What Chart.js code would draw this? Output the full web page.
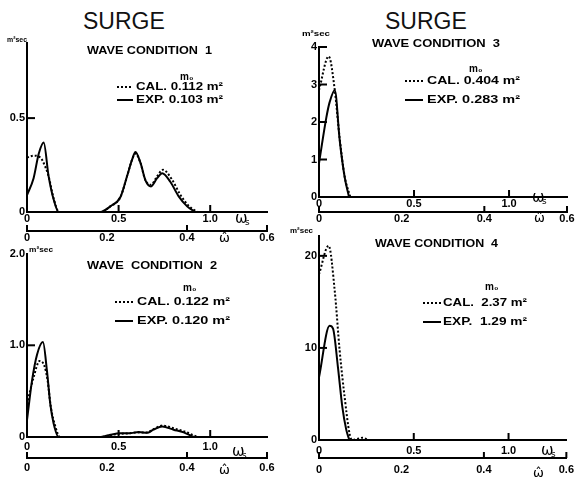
<!DOCTYPE html>
<html>
<head>
<meta charset="utf-8">
<script src="https://cdn.jsdelivr.net/npm/chart.js@4.4.1/dist/chart.umd.min.js"></script>
<style>
  body { margin: 0; background: #fff; width: 579px; height: 479px; position: relative; overflow: hidden;
         font-family: "Liberation Sans", Arial, sans-serif; }
  .head { position: absolute; top: 10px; font-size: 23px; line-height: 23px; color: #111; }
  .panel { position: absolute; }
  .panel canvas { display: block; }
</style>
</head>
<body>
<div class="head" style="left:83px">SURGE</div>
<div class="head" style="left:385px">SURGE</div>
<div class="panel"><canvas id="c1"></canvas></div>
<div class="panel"><canvas id="c2"></canvas></div>
<div class="panel"><canvas id="c3"></canvas></div>
<div class="panel"><canvas id="c4"></canvas></div>
<script>
// axis ticks
const wsTicks = [0, 0.5, 1.0];
const wsLabels = ["0", "0.5", "1.0"];
const whTicks = [0, 0.2, 0.4, 0.6];
const whLabels = ["0", "0.2", "0.4", "0.6"];

// wave condition 1
const wc1YTicks = [0, 0.5];
const wc1YLabels = ["0", "0.5"];
const wc1CalX = [0, 0.036, 0.073, 0.1, 0.118, 0.146, 0.175, 0.40, 0.455, 0.51, 0.546, 0.574, 0.592, 0.62, 0.646, 0.677, 0.71, 0.742, 0.79, 0.835, 0.88, 0.93];
const wc1CalY = [0.29, 0.30, 0.29, 0.24, 0.19, 0.07, 0, 0, 0.03, 0.08, 0.19, 0.28, 0.31, 0.26, 0.17, 0.145, 0.19, 0.225, 0.175, 0.095, 0.035, 0];
const wc1ExpX = [0, 0.036, 0.064, 0.091, 0.118, 0.146, 0.173, 0.40, 0.455, 0.51, 0.546, 0.574, 0.592, 0.62, 0.646, 0.677, 0.71, 0.738, 0.783, 0.828, 0.874, 0.92];
const wc1ExpY = [0.09, 0.18, 0.31, 0.37, 0.19, 0.065, 0, 0, 0.03, 0.08, 0.19, 0.28, 0.32, 0.26, 0.17, 0.136, 0.18, 0.207, 0.16, 0.083, 0.03, 0];

// wave condition 2
const wc2YTicks = [0, 1, 2];
const wc2YLabels = ["0", "1.0", "2.0"];
const wc2CalX = [0, 0.036, 0.069, 0.095, 0.113, 0.13, 0.154, 0.18, 0.40, 0.455, 0.51, 0.56, 0.61, 0.655, 0.69, 0.74, 0.80, 0.86, 0.93];
const wc2CalY = [0.36, 0.65, 0.83, 0.775, 0.61, 0.33, 0.12, 0, 0, 0.02, 0.035, 0.04, 0.05, 0.05, 0.085, 0.125, 0.095, 0.06, 0];
const wc2ExpX = [0, 0.027, 0.055, 0.087, 0.109, 0.127, 0.145, 0.173, 0.40, 0.455, 0.51, 0.56, 0.61, 0.655, 0.69, 0.738, 0.80, 0.855, 0.91];
const wc2ExpY = [0.185, 0.61, 0.90, 1.035, 0.72, 0.36, 0.15, 0, 0, 0.025, 0.04, 0.04, 0.055, 0.045, 0.08, 0.115, 0.08, 0.05, 0];

// wave condition 3
const wc3YTicks = [0, 1, 2, 3, 4];
const wc3YLabels = ["0", "1", "2", "3", "4"];
const wc3CalX = [0, 0.051, 0.083, 0.109, 0.135, 0.165];
const wc3CalY = [2.85, 3.75, 2.85, 1.55, 0.55, 0];
const wc3ExpX = [0, 0.039, 0.056, 0.083, 0.109, 0.135, 0.158];
const wc3ExpY = [0.9, 2.13, 2.53, 2.85, 1.51, 0.53, 0];

// wave condition 4
const wc4YTicks = [0, 10, 20];
const wc4YLabels = ["0", "10", "20"];
const wc4CalX = [0, 0.051, 0.083, 0.109, 0.135, 0.161, 0.175, 0.2, 0.23, 0.26];
const wc4CalY = [18.0, 21.1, 16.2, 9.7, 4.7, 0.7, 0, 0.1, 0.25, 0];
const wc4ExpX = [0, 0.056, 0.074, 0.1, 0.123, 0.144, 0.16];
const wc4ExpY = [6.8, 12.4, 12.1, 7.9, 3.6, 1.1, 0];

Chart.defaults.font.family = '"Liberation Sans", Arial, sans-serif';
Chart.defaults.color = "#000";

function pts(xs, ys) {
  return xs.map((x, i) => ({ x: x, y: ys[i] }));
}

// draw text squeezed/stretched to a given width
function fitText(ctx, str, x, y, w) {
  const m = ctx.measureText(str).width;
  ctx.save();
  ctx.translate(x, y);
  if (m > 0) ctx.scale(w / m, 1);
  ctx.fillText(str, 0, 0);
  ctx.restore();
}

// canvases must not overlap each other, or the axis lines get lost
function makePanel(id, p) {
  const cv = document.getElementById(id);
  const [ox, oy, bw, bh] = p.box;
  cv.width = bw; cv.height = bh;
  cv.style.width = bw + "px"; cv.style.height = bh + "px";
  const wrap = cv.parentNode;
  wrap.style.left = ox + "px"; wrap.style.top = oy + "px";
  const a = p.area;

  const deco = {
    id: "deco",
    afterDraw(chart) {
      const ctx = chart.ctx;
      const xs = chart.scales.x, x2s = chart.scales.x2, ys = chart.scales.y;
      ctx.save();
      ctx.fillStyle = "#000";

      // axis line and tick marks pointing into the plot
      ctx.fillRect(xs.left - 1, ys.top, 2, ys.bottom - ys.top);
      p.yMarks.forEach(v => {
        const yy = ys.getPixelForValue(v);
        ctx.fillRect(xs.left, yy - 1, 8, 2);
      });
      [0.5, 1.0].forEach(v => {
        const xx = xs.getPixelForValue(v);
        ctx.fillRect(xx - 1, ys.bottom - 7, 2, 7);
      });
      [0, 0.4, 0.6].forEach(v => {
        const xx = x2s.getPixelForValue(v);
        ctx.fillRect(xx - 1, x2s.top - 6, 2, 6);
      });

      ctx.textBaseline = "middle";
      ctx.textAlign = "left";
      // unit
      ctx.font = "bold 8px 'Liberation Sans'";
      fitText(ctx, "m\u00B2sec", p.unit[0] - ox, p.unit[1] - oy, p.unit[2]);
      // title
      ctx.font = "bold 11px 'Liberation Sans'";
      fitText(ctx, p.title, p.titlePos[0] - ox, p.titlePos[1] - oy, p.titlePos[2]);
      // legend
      const L = p.legend;
      ctx.font = "bold 10px 'Liberation Sans'";
      ctx.fillText("m\u2080", L.m0[0] - ox, L.m0[1] - oy);
      ctx.font = "bold 11px 'Liberation Sans'";
      fitText(ctx, L.cal, L.tx - ox, L.yCal - oy, L.tw);
      fitText(ctx, L.exp, L.tx - ox, L.yExp - oy, L.tw);
      for (let x = L.lx[0]; x < L.lx[1]; x += 4) ctx.fillRect(x - ox, L.yCal - oy - 1, 2, 2);
      ctx.fillRect(L.lx[0] - ox, L.yExp - oy - 1, L.lx[1] - L.lx[0], 2);
      // axis names
      ctx.font = "15px 'DejaVu Sans'";
      ctx.fillText("\u03C9", p.ws[0] - ox, p.ws[1] - oy);
      ctx.font = "9px 'DejaVu Sans'";
      ctx.fillText("s", p.ws[0] - ox + 10, p.ws[1] - oy + 4);
      ctx.font = "13px 'DejaVu Sans'";
      ctx.fillText("\u03C9\u0302", p.wh[0] - ox, p.wh[1] - oy);
      ctx.restore();
    }
  };

  new Chart(cv, {
    type: "line",
    data: {
      datasets: [
        { label: "CAL.", data: pts(p.calX, p.calY), borderDash: [2, 2], borderWidth: 2, xAxisID: "x", yAxisID: "y" },
        { label: "EXP.", data: pts(p.expX, p.expY), borderWidth: 2, xAxisID: "x", yAxisID: "y" }
      ]
    },
    options: {
      responsive: false,
      animation: false,
      layout: {
        autoPadding: false,
        padding: { left: 0, top: a.t - oy, right: ox + bw - a.r, bottom: oy + bh - (a.b + p.xh + p.x2h) }
      },
      elements: {
        point: { radius: 0 },
        line: { borderColor: "#000", tension: 0.3, cubicInterpolationMode: "monotone" }
      },
      plugins: { legend: { display: false }, tooltip: { enabled: false } },
      scales: {
        x: {
          type: "linear", axis: "x", position: "bottom", min: 0, max: p.xMax,
          afterBuildTicks: s => { s.ticks = wsTicks.map(v => ({ value: v })); },
          afterFit: s => { s.height = p.xh; },
          ticks: { callback: (v, i) => wsLabels[i], padding: p.xPad, maxRotation: 0, autoSkip: false,
                   font: { size: 11, weight: "bold" } },
          grid: { drawOnChartArea: false, drawTicks: false },
          border: { color: "#000", width: 2 }
        },
        x2: {
          type: "linear", axis: "x", position: "bottom", min: 0, max: 0.6,
          afterBuildTicks: s => { s.ticks = whTicks.map(v => ({ value: v })); },
          afterFit: s => { s.height = p.x2h; },
          ticks: { callback: (v, i) => whLabels[i], padding: p.x2Pad, maxRotation: 0, autoSkip: false,
                   font: { size: 11, weight: "bold" } },
          grid: { drawOnChartArea: false, drawTicks: false },
          border: { color: "#000", width: 2 }
        },
        y: {
          type: "linear", position: "left", min: 0, max: p.yMax,
          afterBuildTicks: s => { s.ticks = p.yTicks.map(v => ({ value: v })); },
          afterFit: s => { s.width = a.l - ox; },
          ticks: { callback: (v, i) => p.yLabels[i], padding: 2, autoSkip: false,
                   font: { size: 11, weight: "bold" } },
          grid: { drawOnChartArea: false, drawTicks: false },
          border: { color: "#000", width: 2 }
        }
      }
    },
    plugins: [deco]
  });
}

makePanel("c1", {
  box: [0, 0, 290, 245], area: { l: 27, t: 43, r: 267, b: 212 },
  xh: 19, x2h: 14, xPad: 0, x2Pad: 0, xMax: 1.31, yMax: 0.9,
  yTicks: wc1YTicks, yLabels: wc1YLabels, yMarks: [0.5],
  calX: wc1CalX, calY: wc1CalY, expX: wc1ExpX, expY: wc1ExpY,
  unit: [7, 40, 20], title: "WAVE CONDITION  1", titlePos: [87, 51, 125],
  legend: { m0: [180, 77], lx: [117, 133], tx: 136, tw: 87, yCal: 87, yExp: 100,
            cal: "CAL. 0.112 m\u00B2", exp: "EXP. 0.103 m\u00B2" },
  ws: [235, 219], wh: [219, 239]
});

makePanel("c2", {
  box: [0, 245, 290, 234], area: { l: 27, t: 251, r: 267, b: 437 },
  xh: 21, x2h: 18, xPad: 3, x2Pad: 3, xMax: 1.31, yMax: 2.0,
  yTicks: wc2YTicks, yLabels: wc2YLabels, yMarks: [1],
  calX: wc2CalX, calY: wc2CalY, expX: wc2ExpX, expY: wc2ExpY,
  unit: [29, 250, 24], title: "WAVE  CONDITION  2", titlePos: [87, 266, 130],
  legend: { m0: [183, 288], lx: [115, 133], tx: 137, tw: 93, yCal: 302, yExp: 321,
            cal: "CAL. 0.122 m\u00B2", exp: "EXP. 0.120 m\u00B2" },
  ws: [232, 452], wh: [219, 471]
});

makePanel("c3", {
  box: [290, 0, 289, 227], area: { l: 319, t: 47, r: 567, b: 197 },
  xh: 15, x2h: 15, xPad: 0, x2Pad: 0, xMax: 1.305, yMax: 4,
  yTicks: wc3YTicks, yLabels: wc3YLabels, yMarks: [1, 2, 3, 4],
  calX: wc3CalX, calY: wc3CalY, expX: wc3ExpX, expY: wc3ExpY,
  unit: [302, 34, 28], title: "WAVE CONDITION  3", titlePos: [372, 44, 128],
  legend: { m0: [469, 69], lx: [405, 423], tx: 427, tw: 93, yCal: 81, yExp: 100,
            cal: "CAL. 0.404 m\u00B2", exp: "EXP. 0.283 m\u00B2" },
  ws: [532, 198], wh: [534, 219]
});

makePanel("c4", {
  box: [290, 227, 289, 252], area: { l: 319, t: 235, r: 567, b: 440 },
  xh: 18, x2h: 18, xPad: 4, x2Pad: 5, xMax: 1.305, yMax: 22.2,
  yTicks: wc4YTicks, yLabels: wc4YLabels, yMarks: [10, 20],
  calX: wc4CalX, calY: wc4CalY, expX: wc4ExpX, expY: wc4ExpY,
  unit: [290, 231, 23], title: "WAVE CONDITION  4", titlePos: [375, 244, 123],
  legend: { m0: [485, 287], lx: [423, 441], tx: 443, tw: 84, yCal: 303, yExp: 322,
            cal: "CAL.  2.37 m\u00B2", exp: "EXP.  1.29 m\u00B2" },
  ws: [541, 451], wh: [533, 474]
});
</script>
</body>
</html>
